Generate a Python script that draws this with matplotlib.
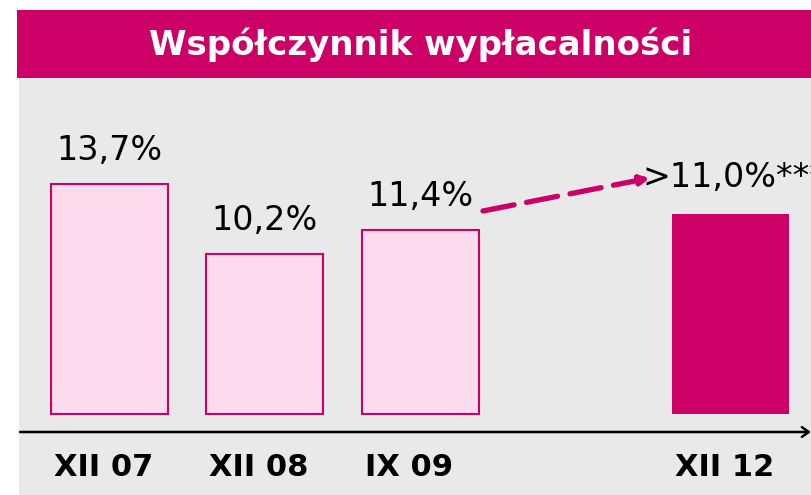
import numpy as np
import matplotlib
matplotlib.use('Agg')
import matplotlib.pyplot as plt
from matplotlib.patches import Rectangle

# data
categories = ["XII 07", "XII 08", "IX 09", "XII 12"]
positions = [0, 1, 2, 4]
heights = [13.7, 10.2, 11.4, 12.2]
value_labels = ["13,7%", "10,2%", "11,4%", ">11,0%***"]
forecast = [False, False, False, True]

magenta = "#cc0066"
light_pink = "#fcdcec"
panel_grey = "#e9e9e9"

fig = plt.figure(figsize=(8.11, 4.95), dpi=100)
fig.patch.set_facecolor("white")

# grey panel and title band (figure coords)
W, H = 811.0, 495.0
fig.patches.append(Rectangle((19 / W, 0), 1, (495 - 78) / H, transform=fig.transFigure,
                             facecolor=panel_grey, edgecolor="none", zorder=-2))
fig.patches.append(Rectangle((17 / W, (495 - 78) / H), 1, 68 / H, transform=fig.transFigure,
                             facecolor=magenta, edgecolor="none", zorder=-2))
fig.text(421 / W, (495 - 45) / H, "Współczynnik wypłacalności", color="white",
         fontsize=24.5, fontweight="bold", ha="center", va="center")

ax = fig.add_axes([20 / W, (495 - 432) / H, (811 - 20) / W, (432 - 78) / H])
ax.set_facecolor("none")
ax.set_xlim(-0.576, 4.517)
ax.set_ylim(1.3, 19.0)
ax.axis("off")

base = 2.2
bw = 0.753
for pos, h, lab, fc in zip(positions, heights, value_labels, forecast):
    if fc:
        ax.bar(pos, h - base, bottom=base, width=bw, color=magenta, edgecolor="none")
    else:
        ax.bar(pos, h - base, bottom=base, width=bw, color=light_pink,
               edgecolor=magenta, linewidth=1.5)
        ax.annotate(lab, (pos, h), xytext=(0, 12), textcoords="offset points",
                    ha="center", va="bottom", fontsize=24, color="black")

# dashed forecast arrow and label
ax.annotate("", xy=(3.48, 14.0), xytext=(2.405, 12.35),
            arrowprops=dict(arrowstyle="-|>,head_length=0.5,head_width=0.25", color=magenta,
                            lw=3.8, linestyle=(0, (6, 2.4)), shrinkA=0, shrinkB=0))
ax.text(3.435, 14.0, value_labels[3], fontsize=24, color="black", ha="left",
        va="center", clip_on=False)

# x axis line with open arrow
ax.annotate("", xy=(1.0, 0), xytext=(0, 0), xycoords="axes fraction",
            arrowprops=dict(arrowstyle="->,head_length=0.5,head_width=0.35",
                            color="black", lw=1.8, shrinkA=0, shrinkB=0))

for pos, cat in zip(positions, categories):
    ax.text(pos - bw / 2 + 0.02, -0.1, cat, transform=ax.get_xaxis_transform(), ha="left",
            va="center", fontsize=22, fontweight="bold", clip_on=False)

fig.savefig("out.png", dpi=100)
